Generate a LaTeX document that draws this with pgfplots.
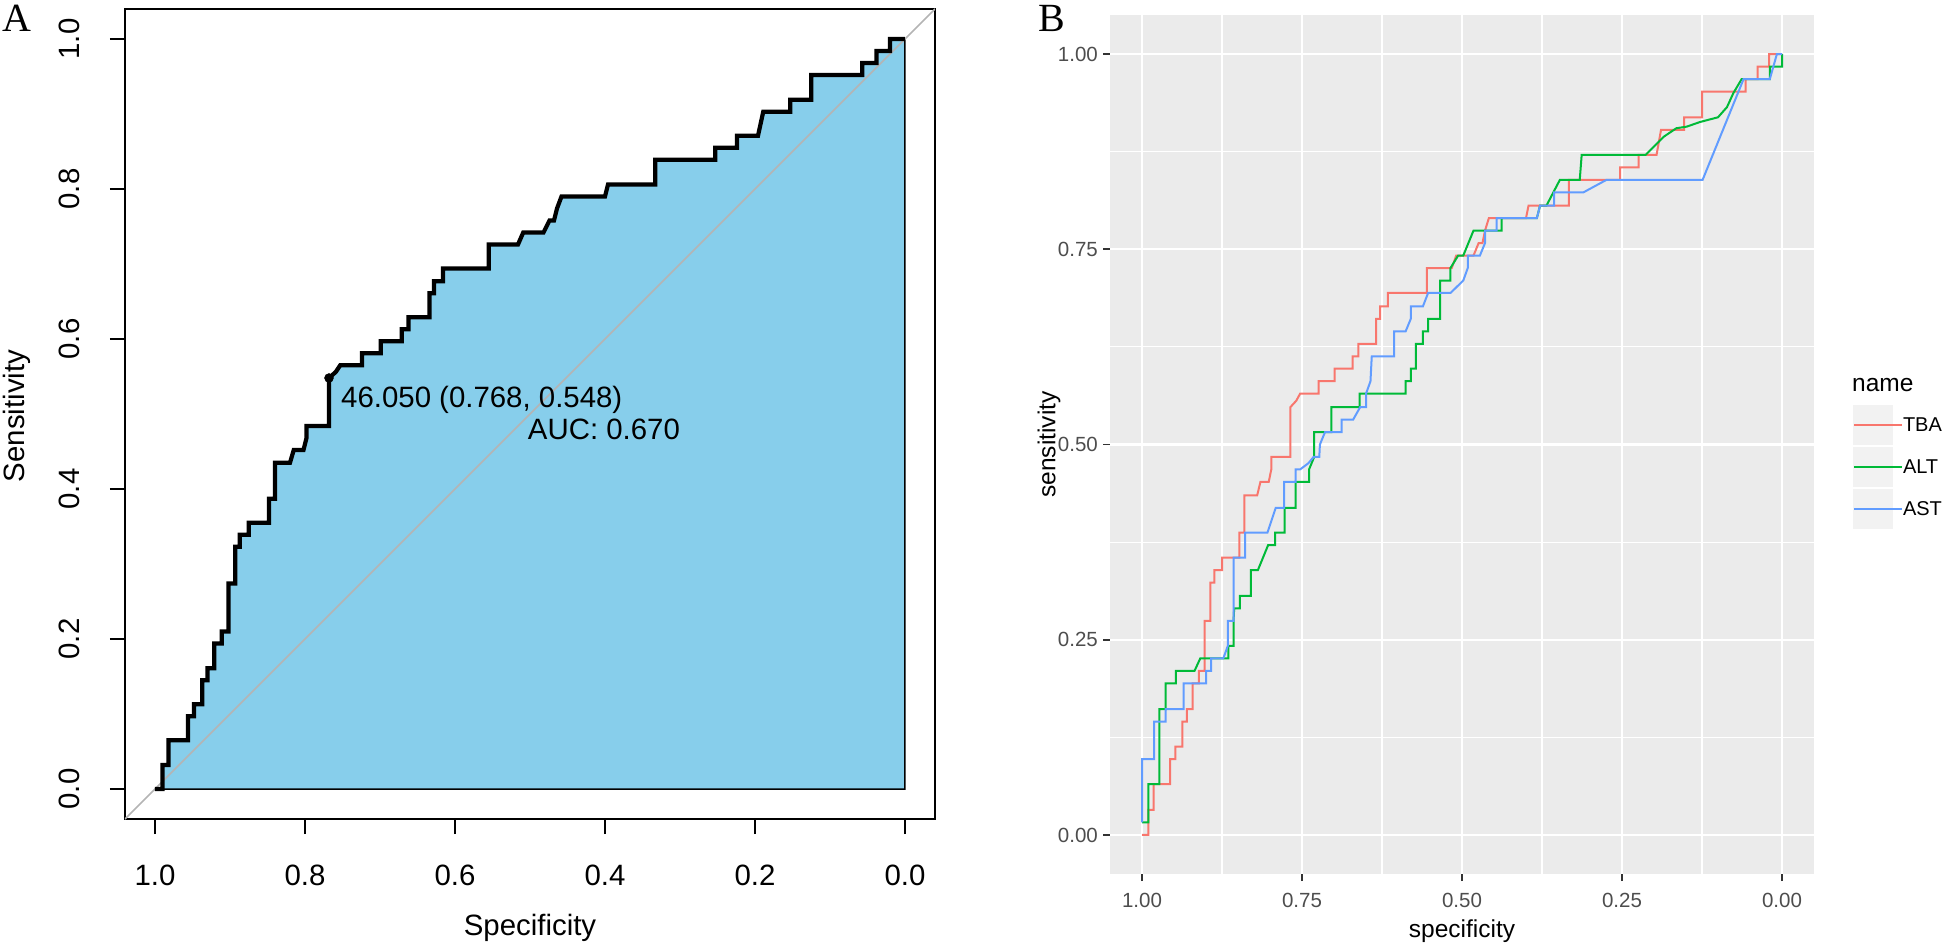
\documentclass[border=0pt]{standalone}
\usepackage{fontspec}
\setmainfont{Liberation Sans}
\newfontfamily\serifA{Liberation Serif}
\usepackage{pgfplots}
\usepackage{pgfplotstable}
\pgfplotsset{compat=1.18}
\definecolor{skyb}{HTML}{87CEEB}
\definecolor{diaggray}{HTML}{B4B4B4}
\definecolor{ggbg}{HTML}{EBEBEB}
\definecolor{ggkey}{HTML}{F2F2F2}
\definecolor{gg30}{HTML}{4D4D4D}
\definecolor{gg20}{HTML}{333333}
\definecolor{cTBA}{HTML}{F8766D}
\definecolor{cALT}{HTML}{00BA38}
\definecolor{cAST}{HTML}{619CFF}

\pgfplotstableread{
spec sens
1.000 0.000
0.990 0.000
0.990 0.032
0.982 0.032
0.982 0.065
0.956 0.065
0.956 0.097
0.948 0.097
0.948 0.113
0.937 0.113
0.937 0.145
0.930 0.145
0.930 0.161
0.921 0.161
0.921 0.194
0.911 0.194
0.911 0.210
0.902 0.210
0.902 0.274
0.893 0.274
0.893 0.323
0.887 0.323
0.887 0.339
0.875 0.339
0.875 0.355
0.848 0.355
0.848 0.387
0.840 0.387
0.840 0.435
0.820 0.435
0.815 0.452
0.802 0.452
0.798 0.468
0.798 0.484
0.768 0.484
0.768 0.548
0.759 0.556
0.753 0.565
0.724 0.565
0.724 0.581
0.699 0.581
0.699 0.597
0.671 0.597
0.671 0.613
0.662 0.613
0.662 0.629
0.634 0.629
0.634 0.661
0.628 0.661
0.628 0.677
0.616 0.677
0.616 0.694
0.555 0.694
0.555 0.726
0.516 0.726
0.509 0.742
0.482 0.742
0.474 0.758
0.468 0.758
0.464 0.774
0.458 0.790
0.400 0.790
0.396 0.806
0.333 0.806
0.333 0.839
0.253 0.839
0.253 0.855
0.224 0.855
0.224 0.871
0.196 0.871
0.189 0.903
0.153 0.903
0.153 0.919
0.125 0.919
0.125 0.952
0.057 0.952
0.057 0.968
0.038 0.968
0.038 0.984
0.020 0.984
0.020 1.000
0.000 1.000
}\dataTBA

\pgfplotstableread{
spec sens
1.000 0.016
0.990 0.016
0.990 0.065
0.973 0.065
0.973 0.161
0.963 0.161
0.963 0.194
0.947 0.194
0.947 0.210
0.918 0.210
0.909 0.226
0.865 0.226
0.865 0.242
0.857 0.242
0.857 0.274
0.856 0.290
0.847 0.290
0.847 0.306
0.830 0.306
0.830 0.339
0.819 0.339
0.803 0.371
0.792 0.371
0.792 0.387
0.777 0.387
0.777 0.419
0.760 0.419
0.760 0.452
0.739 0.452
0.739 0.468
0.731 0.484
0.731 0.516
0.704 0.516
0.704 0.548
0.660 0.548
0.660 0.565
0.588 0.565
0.588 0.581
0.580 0.581
0.580 0.597
0.572 0.597
0.572 0.629
0.561 0.629
0.561 0.645
0.553 0.645
0.553 0.661
0.534 0.661
0.534 0.710
0.518 0.710
0.518 0.726
0.506 0.742
0.498 0.742
0.482 0.774
0.438 0.774
0.438 0.790
0.383 0.790
0.378 0.806
0.368 0.806
0.347 0.839
0.316 0.839
0.313 0.871
0.213 0.871
0.185 0.894
0.165 0.905
0.149 0.907
0.128 0.913
0.100 0.919
0.086 0.932
0.076 0.950
0.063 0.968
0.019 0.968
0.019 0.984
0.000 0.984
0.000 1.000
}\dataALT

\pgfplotstableread{
spec sens
1.000 0.016
1.000 0.097
0.981 0.097
0.981 0.145
0.963 0.145
0.963 0.161
0.935 0.161
0.935 0.194
0.900 0.194
0.900 0.210
0.892 0.210
0.892 0.226
0.873 0.226
0.866 0.242
0.866 0.274
0.857 0.274
0.857 0.355
0.839 0.355
0.839 0.387
0.804 0.387
0.791 0.419
0.778 0.419
0.778 0.452
0.760 0.452
0.760 0.468
0.753 0.468
0.740 0.476
0.732 0.484
0.723 0.484
0.722 0.500
0.714 0.516
0.688 0.516
0.688 0.532
0.670 0.532
0.659 0.548
0.650 0.548
0.650 0.565
0.643 0.581
0.641 0.613
0.606 0.613
0.606 0.645
0.588 0.645
0.580 0.661
0.580 0.677
0.561 0.677
0.553 0.694
0.518 0.694
0.498 0.710
0.491 0.726
0.491 0.742
0.472 0.742
0.464 0.758
0.464 0.774
0.446 0.774
0.446 0.790
0.383 0.790
0.378 0.806
0.356 0.806
0.356 0.823
0.310 0.823
0.274 0.839
0.124 0.839
0.060 0.968
0.019 0.968
0.008 1.000
0.000 1.000
}\dataAST

\begin{document}
\begin{tikzpicture}
\path[use as bounding box] (0pt,0pt) rectangle (1946pt,948pt);
\node[font=\serifA\fontsize{40}{44}\selectfont, anchor=base, inner sep=0pt] at (17pt,916pt) {A};
\node[font=\serifA\fontsize{40}{44}\selectfont, anchor=base, inner sep=0pt] at (1052pt,916pt) {B};

% ---------------- Panel A ----------------
\begin{axis}[
  at={(530pt,534pt)}, anchor=center,
  scale only axis, width=810pt, height=810pt,
  xmin=-0.04, xmax=1.04, ymin=-0.04, ymax=1.04,
  x dir=reverse,
  axis line style={line width=2pt, black},
  xtick={0,0.2,0.4,0.6,0.8,1}, xticklabels={0.0,0.2,0.4,0.6,0.8,1.0},
  ytick={0,0.2,0.4,0.6,0.8,1}, yticklabels={0.0,0.2,0.4,0.6,0.8,1.0},
  xtick pos=left, ytick pos=left,
  tick align=outside, major tick length=15pt,
  tick style={black, line width=2pt},
  tick label style={font=\fontsize{29.4}{34}\selectfont, inner sep=0pt},
  xticklabel style={anchor=north, yshift=-30.5pt},
  yticklabel style={xshift=-30pt, rotate=90, anchor=south},
  xlabel={Specificity}, ylabel={Sensitivity},
  label style={font=\fontsize{29.4}{34}\selectfont, inner sep=0pt},
  xlabel style={at={(axis description cs:0.5,-0.1346)}, anchor=center},
  ylabel style={at={(axis description cs:-0.1333,0.4975)}, anchor=center},
]
\addplot[fill=skyb, draw=black, line width=1.5pt] table[x=spec,y=sens]{\dataTBA} -- (axis cs:0,0) -- cycle;
\addplot[color=diaggray, line width=1.6pt] coordinates {(1.04,-0.04) (-0.04,1.04)};
\addplot[black, line width=4.2pt] table[x=spec,y=sens]{\dataTBA};
\addplot[only marks, mark=*, mark size=4.5pt, black] coordinates {(0.768,0.548)};
\node[anchor=north west, inner sep=0pt, font=\fontsize{29.4}{34}\selectfont] at (axis cs:0.752,0.537) {46.050 (0.768, 0.548)};
\node[anchor=north west, inner sep=0pt, font=\fontsize{29.4}{34}\selectfont] at (axis cs:0.503,0.494) {AUC: 0.670};
\end{axis}

% ---------------- Panel B ----------------
\begin{axis}[
  at={(1462pt,503.5pt)}, anchor=center,
  scale only axis, width=704pt, height=859pt,
  xmin=-0.05, xmax=1.05, ymin=-0.05, ymax=1.05,
  x dir=reverse,
  axis background/.style={fill=ggbg},
  axis line style={draw=none},
  grid=both,
  major grid style={white, line width=2.2pt},
  minor grid style={white, line width=1.1pt},
  xtick={0,0.25,0.5,0.75,1}, xticklabels={0.00,0.25,0.50,0.75,1.00},
  ytick={0,0.25,0.5,0.75,1}, yticklabels={0.00,0.25,0.50,0.75,1.00},
  minor xtick={0.125,0.375,0.625,0.875},
  minor ytick={0.125,0.375,0.625,0.875},
  xtick pos=left, ytick pos=left,
  tick align=outside, major tick length=7pt, minor tick length=0pt,
  major tick style={gg20, line width=1.6pt},
  tick label style={font=\fontsize{20.5}{24}\selectfont, text=gg30, inner sep=0pt},
  xticklabel style={anchor=north, yshift=-11.5pt},
  yticklabel style={anchor=east, xshift=-5pt},
  xlabel={specificity}, ylabel={sensitivity},
  label style={font=\fontsize{24.5}{28}\selectfont, inner sep=0pt},
  xlabel style={at={(axis description cs:0.5,-0.0664)}, anchor=center},
  ylabel style={at={(axis description cs:-0.0866,0.5)}, anchor=center},
  legend style={
    at={(axis description cs:1.0554,0.5460)}, anchor=north west,
    draw=none, fill=none, inner sep=0pt, outer sep=0pt,
    row sep=2pt, column sep=0pt,
    font=\fontsize{20}{24}\selectfont,
    nodes={inner sep=0pt, text=black},
  },
  legend cell align=left,
  legend image code/.code={
    \fill[ggkey] (0pt,-19pt) rectangle (38pt,19pt);
    \path (0pt,0pt) -- (48pt,0pt);
    \draw[line width=2pt] (3pt,0pt) -- (35pt,0pt);
  },
]
\addplot[cTBA, line width=2pt] table[x=spec,y=sens]{\dataTBA};
\addlegendentry{TBA}
\addplot[cALT, line width=2pt] table[x=spec,y=sens]{\dataALT};
\addlegendentry{ALT}
\addplot[cAST, line width=2pt] table[x=spec,y=sens]{\dataAST};
\addlegendentry{AST}
\end{axis}
\node[anchor=base west, inner sep=0pt, font=\fontsize{24.5}{28}\selectfont] at (1852pt,556pt) {name};
\end{tikzpicture}
\end{document}
